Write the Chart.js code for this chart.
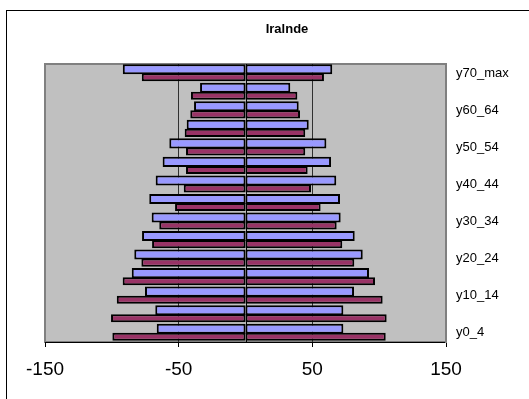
<!DOCTYPE html>
<html>
<head>
<meta charset="utf-8">
<script src="https://cdn.jsdelivr.net/npm/chart.js@4/dist/chart.umd.min.js"></script>
<style>
  html, body { margin: 0; padding: 0; background: #fff; overflow: hidden; }
  #wrap { position: relative; width: 529px; height: 399px; }
</style>
</head>
<body>
<div id="wrap"><canvas id="chart" width="529" height="399"></canvas></div>
<script>
// ── Data (bottom to top) ────────────────────────────────

const categories = ['y0_4', 'y5_9', 'y10_14', 'y15_19', 'y20_24', 'y25_29', 'y30_34',
  'y35_39', 'y40_44', 'y45_49', 'y50_54', 'y55_59', 'y60_64', 'y65_69', 'y70_max'];

const leftBlue = [-66.4, -67.5, -75.2, -85.1, -83.2, -77.4, -70.2,
  -72.0, -67.2, -62.0, -57.0, -44.0, -38.5, -34.0, -91.8];
const leftMaroon = [-99.6, -100.6, -96.3, -91.9, -77.9, -69.9, -64.5,
  -52.7, -46.2, -44.5, -44.5, -45.5, -41.3, -40.8, -77.6];
const rightBlue = [73.2, 73.2, 81.2, 92.4, 87.7, 81.7, 71.2,
  70.7, 67.9, 64.0, 60.5, 47.3, 39.8, 33.5, 64.9];
const rightMaroon = [104.9, 105.6, 102.6, 96.9, 81.4, 72.4, 68.2,
  56.2, 49.0, 46.5, 44.7, 44.7, 40.8, 38.8, 58.7];

const xTicks = [-150, -50, 50, 150];

// ── Colors ──────────────────────────────────────────────

const COLORS = {
  blue: '#9999FF',
  maroon: '#993366',
  plot: '#C0C0C0',
  plotBorder: '#808080',
  grid: '#303030',
};

Chart.defaults.font.family = "'Liberation Sans', Arial, sans-serif";
Chart.defaults.color = '#000';

// plot background, frame, zero line and outer border
const framePlugin = {
  id: 'frame',
  beforeDraw(chart) {
    const { ctx, chartArea: a } = chart;
    ctx.save();
    ctx.strokeStyle = '#000';
    ctx.lineWidth = 1;
    ctx.strokeRect(6.5, 10.5, 700, 600);
    ctx.fillStyle = COLORS.plot;
    ctx.fillRect(a.left, a.top, a.right - a.left, a.bottom - a.top);
    ctx.strokeStyle = COLORS.plotBorder;
    ctx.lineWidth = 2;
    ctx.strokeRect(a.left, a.top, a.right - a.left, a.bottom - a.top);
    ctx.restore();
  },
  beforeDatasetsDraw(chart) {
    const { ctx, chartArea: a, scales } = chart;
    const x0 = Math.round(scales.x.getPixelForValue(0)) + 0.5;
    ctx.save();
    ctx.strokeStyle = '#000';
    ctx.lineWidth = 1;
    ctx.beginPath();
    ctx.moveTo(x0, a.top);
    ctx.lineTo(x0, a.bottom);
    ctx.stroke();
    ctx.restore();
  },
};

function bars(data, stack, color, pct) {
  return {
    data,
    stack,
    backgroundColor: color,
    borderColor: '#000',
    borderWidth: 2,
    borderSkipped: false,
    barPercentage: pct,
    categoryPercentage: 0.87,
  };
}

new Chart(document.getElementById('chart'), {
  type: 'bar',
  data: {
    labels: categories,
    datasets: [
      bars(leftBlue, 'blue', COLORS.blue, 1.25),
      bars(rightBlue, 'blue', COLORS.blue, 1.25),
      bars(leftMaroon, 'maroon', COLORS.maroon, 1.0),
      bars(rightMaroon, 'maroon', COLORS.maroon, 1.0),
    ],
  },
  options: {
    indexAxis: 'y',
    responsive: false,
    animation: false,
    layout: { padding: { left: 45, right: 0, top: 22, bottom: 0 } },
    plugins: {
      legend: { display: false },
      tooltip: { enabled: false },
      title: {
        display: true,
        text: 'Iralnde',
        font: { size: 13, weight: 'bold' },
        lineHeight: 1.2,
        padding: { top: 0, bottom: 26.4 },
        color: '#000',
      },
    },
    scales: {
      x: {
        type: 'linear',
        min: -150,
        max: 150,
        afterBuildTicks: s => { s.ticks = xTicks.map(v => ({ value: v })); },
        afterFit: s => { s.height = 57; },
        grid: {
          color: c => (Math.abs(c.tick.value) === 150 ? 'rgba(0,0,0,0)' : COLORS.grid),
          tickColor: '#000',
          tickLength: 5,
          lineWidth: 1,
        },
        border: { color: '#000', width: 1 },
        ticks: { font: { size: 19 }, padding: 11, maxRotation: 0 },
      },
      y: {
        position: 'right',
        reverse: true,
        stacked: true,
        afterFit: s => { s.width = 83; },
        grid: { display: false, drawTicks: false },
        border: { color: COLORS.plotBorder, width: 2 },
        ticks: {
          autoSkip: false,
          padding: 10,
          font: { size: 13 },
          callback: (v, i) => (i % 2 === 0 ? categories[i] : ''),
        },
      },
    },
  },
  plugins: [framePlugin],
});
</script>
</body>
</html>
